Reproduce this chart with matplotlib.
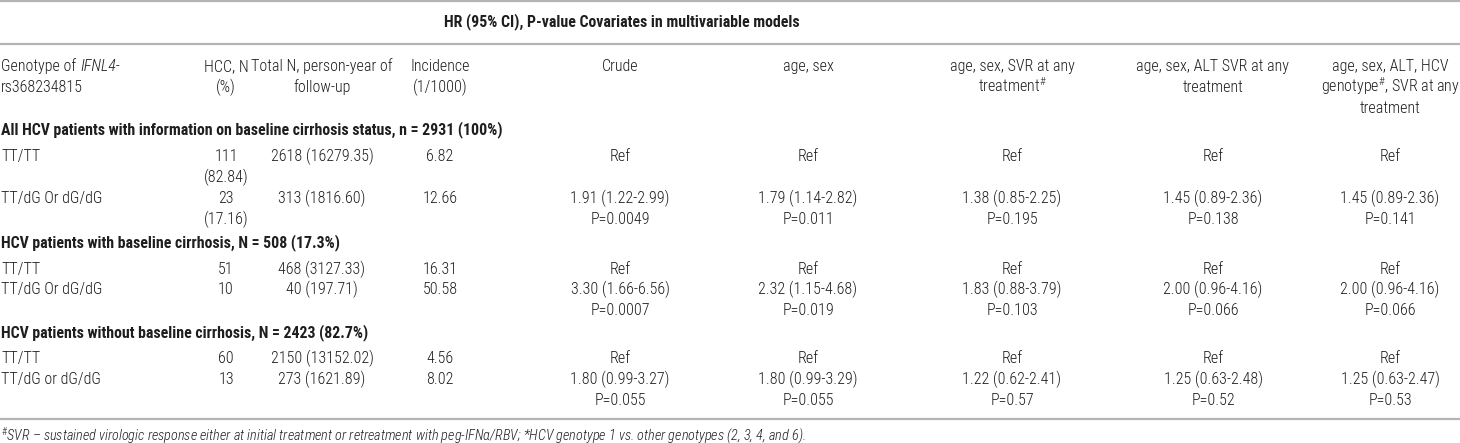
import matplotlib
matplotlib.use("Agg")
import matplotlib.pyplot as plt
from matplotlib import font_manager

# ---- table content ----
title = "HR (95% CI), P-value Covariates in multivariable models"
col_headers = [
    None,  # first column header has an italic part, drawn below
    "HCC, N\n(%)",
    "Total N, person-year of\nfollow-up",
    "Incidence\n(1/1000)",
    "Crude",
    "age, sex",
    "age, sex, SVR at any\ntreatment$^{\\#}$",
    "age, sex, ALT SVR at any\ntreatment",
    "age, sex, ALT, HCV\ngenotype$^{\\#}$, SVR at any\ntreatment",
]
groups = [
    "All HCV patients with information on baseline cirrhosis status, n = 2931 (100%)",
    "HCV patients with baseline cirrhosis, N = 508 (17.3%)",
    "HCV patients without baseline cirrhosis, N = 2423 (82.7%)",
]
genotypes = [["TT/TT", "TT/dG Or dG/dG"],
             ["TT/TT", "TT/dG Or dG/dG"],
             ["TT/TT", "TT/dG or dG/dG"]]
hcc_n = [["111\n(82.84)", "23\n(17.16)"],
         ["51", "10"],
         ["60", "13"]]
total_py = [["2618 (16279.35)", "313 (1816.60)"],
            ["468 (3127.33)", "40 (197.71)"],
            ["2150 (13152.02)", "273 (1621.89)"]]
incidence = [["6.82", "12.66"],
             ["16.31", "50.58"],
             ["4.56", "8.02"]]
# HR (95% CI) and P for the variant row of each group, one list per model
crude = ["1.91 (1.22-2.99)\nP=0.0049", "3.30 (1.66-6.56)\nP=0.0007", "1.80 (0.99-3.27)\nP=0.055"]
age_sex = ["1.79 (1.14-2.82)\nP=0.011", "2.32 (1.15-4.68)\nP=0.019", "1.80 (0.99-3.29)\nP=0.055"]
svr = ["1.38 (0.85-2.25)\nP=0.195", "1.83 (0.88-3.79)\nP=0.103", "1.22 (0.62-2.41)\nP=0.57"]
alt_svr = ["1.45 (0.89-2.36)\nP=0.138", "2.00 (0.96-4.16)\nP=0.066", "1.25 (0.63-2.48)\nP=0.52"]
full = ["1.45 (0.89-2.36)\nP=0.141", "2.00 (0.96-4.16)\nP=0.066", "1.25 (0.63-2.47)\nP=0.53"]
footnote = ("$^{\\#}$SVR \u2013 sustained virologic response either at initial treatment or "
            "retreatment with peg-IFN\u03b1/RBV; *HCV genotype 1 vs. other genotypes (2, 3, 4, and 6).")

# ---- font: a narrow grotesque with a real bold, if one is installed ----
have = {}
for f in font_manager.fontManager.ttflist:
    have.setdefault(f.name, set()).add((f.weight, f.style))
fam = "Liberation Sans"
for cand in ["Roboto Condensed", "Pragati Narrow", "Archivo Narrow",
             "PT Sans Narrow", "Fira Sans Condensed", "IBM Plex Sans Condensed"]:
    st = have.get(cand, set())
    if (400, 'normal') in st and (700, 'normal') in st:
        fam = cand
        break
reg_w = 300 if (300, 'normal') in have.get(fam, set()) else 400
plt.rcParams['font.family'] = [fam, 'Liberation Sans', 'DejaVu Sans']
plt.rcParams['mathtext.fontset'] = 'custom'
plt.rcParams['mathtext.rm'] = fam + (':light' if reg_w == 300 else '')
plt.rcParams['mathtext.it'] = fam + ':italic'
plt.rcParams['mathtext.bf'] = fam + ':bold'

# ---- layout (pixels) ----
W, H = 1460, 443
col_x = [1, 226, 322, 440, 620, 808, 1012, 1213, 1390]
lh = 21
txt = '#1e1e1e'
rule = '#b4b4b4'

fig = plt.figure(figsize=(W / 100, H / 100), dpi=100)
ax = fig.add_axes([0, 0, 1, 1])
ax.set_xlim(0, W)
ax.set_ylim(H, 0)
ax.axis('off')
rend = fig.canvas.get_renderer()


def width_px(s, size, **kw):
    t = ax.text(0, 0, s, fontsize=size, **kw)
    w = t.get_window_extent(renderer=rend).width
    t.remove()
    return w


# size the font from widths
fs = 1.02 * 12 * 100 / width_px("2618 (16279.35)", 12, weight=reg_w)
fs = min(fs, 12.5)
fs_b = 12 * 506 / width_px(groups[0], 12, weight='bold')
fs_b = min(fs_b, fs * 1.05)
fs_f = 12 * 815 / width_px(footnote, 12, style='italic')
fs_f = min(fs_f, fs)


def cell(x, y, s, ha='center', size=None, **kw):
    kw.setdefault('weight', reg_w)
    for i, line in enumerate(s.split("\n")):
        ax.text(x, y + i * lh + 6, line, ha=ha, va='baseline',
                fontsize=size or fs, color=txt, **kw)


for yy in (1, 44, 419):
    ax.plot([0, W], [yy, yy], color=rule, lw=1.6, solid_capstyle='butt')

cell(622, 20, title, size=fs_b, weight='bold')

# first column header: "Genotype of " + italic "IFNL4-"
pre = "Genotype of "
ax.text(col_x[0], 65 + 6, pre, ha='left', va='baseline', fontsize=fs,
        color=txt, weight=reg_w)
ax.text(col_x[0] + width_px(pre, fs, weight=reg_w), 65 + 6, "IFNL4-", ha='left',
        va='baseline', fontsize=fs, color=txt, style='italic', weight=reg_w)
cell(col_x[0], 86, "rs368234815", ha='left')
for j, h in enumerate(col_headers):
    if h is not None:
        cell(col_x[j], 65, h)

group_y = [128, 241, 331]
row_y = [[155, 197], [268, 288], [357, 378]]
models = [crude, age_sex, svr, alt_svr, full]

for g in range(3):
    cell(1, group_y[g], groups[g], ha='left', size=fs_b, weight='bold')
    for r in range(2):
        y = row_y[g][r]
        cell(col_x[0], y, genotypes[g][r], ha='left')
        cell(col_x[1], y, hcc_n[g][r])
        cell(col_x[2], y, total_py[g][r])
        cell(col_x[3], y, incidence[g][r])
        for k, m in enumerate(models):
            cell(col_x[4 + k], y, "Ref" if r == 0 else m[g])

ax.text(1, 440, footnote, ha='left', va='baseline', fontsize=fs_f,
        color=txt, style='italic', weight=reg_w)

fig.savefig("out.png", dpi=100)
